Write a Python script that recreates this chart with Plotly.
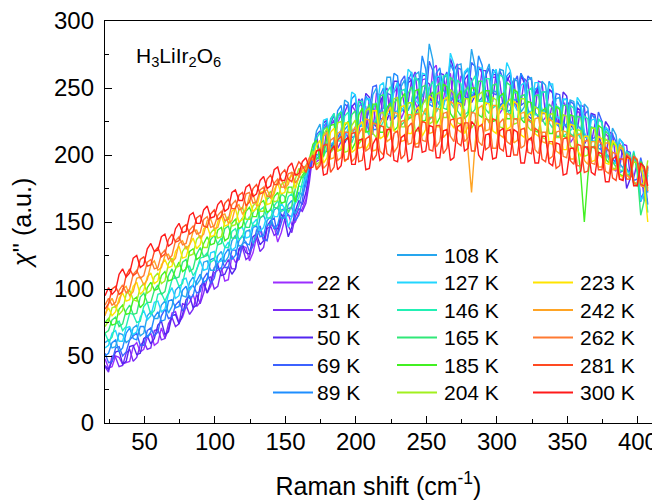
import plotly.graph_objects as go

# Raman shift grid (cm^-1), 2.5 cm^-1 steps from 22 to 407
raman_shift = [22 + 2.5 * i for i in range(155)]

temperatures = [22, 31, 50, 69, 89, 108, 127, 146, 165, 185, 204, 223, 242, 262, 281, 300]

colors = ["#9B2EFF", "#7A2AF5", "#5326F0", "#3C62FF", "#1E8EFF", "#26A6EE",
          "#22D6FF", "#22F0B4", "#30E878", "#42F022", "#A2F01E",
          "#FFE400", "#FFA424", "#FF7A32", "#FF4A22", "#FF1A1A"]

chi_22K = [48,41,42,50,49,44,45,46,57,60,53,55,64,67,58,60,71,63,70,82,83,75,79,87,90,96,87,90,105,97,102,112,114,116,106,107,125,120,122,132,131,121,127,139,144,136,137,148,147,135,142,152,156,148,150,157,160,167,185,198,195,197,219,223,202,205,224,230,217,213,237,233,216,237,236,214,216,246,245,229,230,243,247,250,227,233,258,256,239,232,256,257,237,264,267,240,241,257,261,237,234,259,256,243,245,244,266,261,237,242,258,258,231,235,258,254,239,236,258,256,232,232,246,248,225,228,249,246,227,222,240,235,209,213,233,230,214,212,231,227,205,204,216,213,190,188,209,204,185,184,200,192,168,172,185]
chi_31K = [42,38,50,49,42,43,52,55,46,49,58,61,55,56,69,70,62,63,74,79,72,74,89,88,81,85,96,89,97,108,109,100,102,114,117,122,115,115,129,131,122,124,134,138,128,131,145,147,140,142,153,155,147,142,154,160,158,164,180,202,216,197,201,221,222,226,205,210,232,238,218,219,242,236,218,242,237,222,226,247,250,226,227,255,250,237,239,256,262,237,236,255,253,238,235,261,260,241,242,263,268,239,237,258,257,243,244,263,263,240,240,262,255,235,232,251,256,234,238,257,254,235,232,255,254,230,225,240,238,219,218,240,237,221,218,237,236,212,209,223,222,200,195,217,216,195,190,208,207,185,183,194,192,166,167]
chi_50K = [43,40,46,53,54,44,46,57,58,51,52,63,65,59,63,73,76,66,68,80,81,74,81,92,95,86,88,102,105,97,105,116,118,110,111,117,111,115,130,133,127,126,139,141,133,136,147,151,145,145,156,152,139,146,158,166,163,172,188,202,200,201,224,226,206,210,228,232,209,214,236,239,222,222,246,243,224,221,239,245,226,233,255,255,235,232,254,256,229,238,259,260,243,239,258,258,237,246,272,264,242,236,256,260,239,244,264,264,246,239,260,260,237,239,255,260,238,240,261,253,229,227,246,251,231,231,249,247,224,223,247,244,223,219,235,233,208,213,231,230,213,207,225,221,197,194,206,200,175,182,200,196,178,175,191]
chi_69K = [52,45,46,56,57,50,53,62,65,67,58,58,69,71,65,68,80,85,78,79,88,91,84,86,101,103,97,98,108,112,104,108,119,123,116,116,129,129,122,134,135,128,132,144,147,137,136,151,153,140,149,158,160,161,151,155,166,183,190,199,215,218,201,203,223,230,213,218,238,236,213,214,239,242,226,233,251,252,227,227,246,245,227,230,255,259,239,239,256,257,238,241,270,263,242,237,256,262,239,244,265,264,244,242,269,266,240,243,259,265,246,245,263,257,233,233,254,259,237,239,259,256,232,228,247,247,225,228,246,245,225,220,240,238,215,215,230,233,212,213,232,225,202,198,215,210,187,188,203,202,181,182,198,187,163]
chi_89K = [50,52,60,62,53,56,67,71,63,62,72,72,64,68,79,83,76,77,91,92,86,87,99,102,93,95,106,111,105,107,122,123,115,115,126,130,122,125,136,140,134,133,146,147,139,140,151,154,145,148,159,160,155,154,165,172,170,178,192,201,197,200,221,225,205,209,233,237,219,222,242,245,221,222,244,240,219,219,244,250,235,239,261,259,233,234,255,262,241,246,274,264,238,236,261,265,248,246,268,262,239,238,260,264,242,249,274,267,246,241,264,261,236,239,259,262,241,241,261,256,234,229,249,251,232,234,255,249,223,221,241,242,226,221,240,235,215,213,230,228,205,204,220,217,197,194,212,209,190,186,201,190,165,173,190]
chi_108K = [60,62,56,57,67,66,60,62,71,73,65,67,80,83,78,78,88,91,82,87,99,102,95,94,105,109,103,107,120,121,114,114,125,128,120,124,136,140,132,133,143,144,134,140,153,155,148,148,159,161,153,153,163,166,156,162,173,188,194,202,218,223,206,208,227,231,210,216,241,239,219,215,236,239,218,224,245,250,232,235,258,258,232,233,251,256,233,239,260,262,243,251,283,271,242,237,257,260,241,245,267,268,244,252,279,266,240,240,261,268,248,247,264,263,240,237,257,255,232,236,256,258,236,235,255,252,230,226,242,243,222,223,241,240,223,219,238,235,211,210,226,225,205,203,220,215,194,190,203,199,179,179,196,189,172]
chi_127K = [56,58,67,69,61,61,71,72,66,68,79,84,77,80,90,91,83,85,96,101,93,95,107,108,99,103,115,121,114,115,127,128,120,121,131,135,129,131,145,146,138,139,149,152,143,146,156,160,154,154,164,160,146,154,168,177,176,183,195,204,199,202,226,227,208,210,227,233,212,220,247,245,224,221,241,242,221,228,252,254,231,230,248,254,232,237,264,261,241,238,261,260,239,240,258,259,236,246,276,268,242,240,262,265,246,248,265,265,239,240,260,264,243,245,269,263,238,233,252,254,230,233,254,254,232,233,253,253,229,227,242,241,218,221,243,239,217,211,226,227,208,206,221,218,194,194,212,208,188,186,203,191,166,171,187]
chi_146K = [67,61,64,74,76,69,72,82,81,75,76,87,90,81,84,96,97,91,97,107,109,102,104,116,117,110,114,123,124,127,120,122,134,138,131,131,143,145,137,139,149,154,147,148,159,161,153,153,162,166,158,159,169,171,164,168,180,192,197,200,212,217,199,205,226,231,211,210,229,232,209,216,240,240,219,215,235,239,220,225,247,251,229,229,248,249,226,231,258,255,233,230,250,255,232,237,259,260,239,235,256,253,230,232,254,259,240,240,257,257,235,237,260,258,235,229,247,246,227,228,248,250,230,230,247,247,224,220,237,235,214,216,237,235,217,212,229,227,205,207,227,224,203,196,210,209,189,188,202,200,179,177,192,182,157]
chi_165K = [67,69,77,79,72,74,84,88,81,82,94,97,90,90,99,103,96,98,110,115,108,109,120,122,113,115,126,131,124,125,137,140,133,134,145,147,138,138,149,153,146,146,157,161,153,155,167,169,161,160,171,169,157,162,175,184,183,186,196,204,197,198,219,221,203,208,230,232,211,212,230,233,211,211,232,238,222,225,244,245,221,220,239,242,222,225,246,251,232,231,251,252,226,229,251,254,235,234,258,255,233,229,247,251,231,234,255,255,234,231,252,253,235,234,254,252,227,226,244,245,226,224,244,245,227,222,238,235,214,214,237,237,216,214,229,228,207,204,221,220,200,199,218,215,195,191,205,204,185,186,202,187,155,166,189]
chi_185K = [75,78,73,74,85,88,81,82,92,94,86,89,101,105,99,100,110,113,106,107,115,120,113,115,128,130,122,124,134,139,133,134,144,146,136,138,149,152,145,147,158,161,154,154,164,166,157,159,169,172,164,165,176,176,165,178,185,188,197,208,211,196,199,214,222,223,203,204,222,225,204,209,230,235,217,218,238,238,217,217,235,239,218,221,242,246,227,228,248,249,225,226,244,247,223,228,253,251,231,227,244,248,227,230,250,250,230,228,248,248,225,226,244,246,227,227,249,247,227,224,240,239,218,217,233,235,216,216,236,234,214,213,230,229,210,185,150,184,206,205,222,220,197,194,209,207,186,184,199,197,179,178,195,191,175]
chi_204K = [72,76,86,87,81,84,96,99,92,91,101,104,97,99,109,112,104,106,119,123,116,117,128,132,125,126,137,140,131,131,142,145,138,139,150,154,147,148,159,161,152,152,162,165,158,158,169,173,165,166,178,180,172,172,182,190,187,188,196,203,193,195,215,220,202,205,224,225,202,203,222,226,208,212,233,235,216,213,231,232,213,220,242,243,221,221,239,239,218,218,237,242,223,225,245,247,228,228,249,246,224,223,242,242,220,224,245,247,229,224,243,241,221,220,239,242,223,224,242,242,221,218,236,234,213,212,230,231,213,213,230,229,207,204,219,218,199,200,220,220,201,198,212,210,190,190,208,205,186,182,195,194,177,180,196]
chi_223K = [81,86,80,83,93,97,91,92,102,105,96,99,109,112,104,106,118,122,116,117,128,132,123,124,133,138,130,133,145,147,139,140,150,155,147,148,158,160,150,152,162,166,158,160,172,173,163,164,174,179,171,172,182,185,175,184,188,189,197,197,207,211,194,198,217,220,203,205,224,224,202,204,222,225,204,209,233,233,212,214,231,236,218,217,236,237,216,216,233,236,214,219,244,242,221,221,241,243,224,220,239,238,216,221,243,244,222,221,239,238,218,216,234,238,219,221,240,238,215,213,230,232,216,214,232,231,209,208,224,223,204,204,223,222,204,199,214,214,195,196,214,212,194,193,211,207,185,183,198,197,180,178,194,178,150]
chi_242K = [80,89,93,87,90,100,102,95,98,108,109,103,107,118,121,114,116,125,126,120,123,134,136,130,133,143,144,138,141,151,152,145,146,155,156,149,151,161,163,156,159,170,171,162,163,173,174,168,171,181,182,175,178,187,186,184,190,192,196,200,190,194,214,217,197,198,216,218,195,198,217,221,205,206,227,226,203,204,223,229,210,212,232,231,210,211,230,230,208,209,229,235,216,217,235,234,213,216,240,238,219,217,234,205,172,208,235,237,218,219,237,237,215,213,231,230,209,211,231,232,212,211,227,228,210,209,227,225,203,201,218,217,197,197,215,216,196,193,210,210,191,191,209,209,189,189,206,204,185,183,199,197,177,176,191]
chi_262K = [88,93,88,90,99,103,97,100,111,114,108,110,120,122,115,116,126,129,122,125,136,139,133,134,144,147,141,142,152,154,146,147,155,158,151,152,163,166,159,160,171,172,164,165,174,176,169,169,179,182,176,176,186,187,179,183,191,191,198,196,203,205,190,193,211,213,196,198,217,217,195,198,216,220,203,205,224,223,203,200,218,221,202,206,225,226,208,209,230,231,211,210,228,228,206,210,231,232,214,210,227,228,210,213,232,231,210,207,227,226,205,205,224,227,210,208,227,227,205,207,227,225,204,201,217,217,197,199,217,218,199,198,215,213,192,192,210,211,194,193,211,208,188,186,202,201,182,182,201,198,180,177,193,189,173]
chi_281K = [85,89,100,102,96,98,110,115,110,112,122,124,117,118,128,131,124,126,137,141,135,136,146,148,141,143,153,155,147,146,156,159,152,154,164,167,160,160,170,172,162,165,175,178,171,172,182,185,178,178,186,189,182,180,189,195,192,187,194,200,189,192,207,208,187,191,211,214,196,197,216,217,195,196,212,214,196,200,222,221,201,199,216,218,197,200,221,224,206,206,225,224,204,203,222,222,201,205,226,227,209,207,224,224,203,203,221,223,204,206,227,226,205,203,218,219,200,200,219,220,202,201,220,218,197,195,210,210,190,192,212,213,196,193,208,207,187,188,206,206,189,189,206,203,183,181,197,197,182,182,199,196,178,177,192]
chi_300K = [95,101,96,99,111,115,109,112,123,125,116,118,130,134,128,129,139,141,132,134,145,149,142,143,155,157,149,149,159,162,153,154,163,166,158,160,172,174,166,166,176,178,169,171,181,184,175,177,189,191,181,181,191,194,185,186,195,198,190,191,203,204,185,186,203,207,189,192,211,213,193,193,211,212,189,190,208,213,196,198,219,219,196,195,213,215,195,197,217,221,202,203,222,221,198,198,218,219,196,198,221,223,203,205,225,222,200,196,215,216,197,198,218,220,199,199,219,217,194,194,211,213,194,194,214,214,194,192,209,208,185,186,205,205,186,188,206,206,187,185,202,201,180,180,197,199,182,181,199,197,177,177,194,191,177]

spectra = [chi_22K, chi_31K, chi_50K, chi_69K, chi_89K, chi_108K, chi_127K, chi_146K,
           chi_165K, chi_185K, chi_204K, chi_223K, chi_242K, chi_262K, chi_281K, chi_300K]
legend_labels = [f"{t} K" for t in temperatures]

for s in spectra:
    assert len(s) == len(raman_shift), len(s)

fig = go.Figure()
for y, c, name in zip(spectra, colors, legend_labels):
    fig.add_trace(go.Scatter(x=raman_shift, y=y, mode="lines", name=name,
                             line=dict(color=c, width=1.4), showlegend=False))

FONT = "Liberation Sans, Arial, Helvetica, sans-serif"
# plot-area edges in page pixels (page body has an 8 px margin)
OFF = 8
L, R, T, B = 105, 652, 21, 423
W, H = R - L, B - T

def px(x):
    return (x - L) / W

def py(y):
    return (B - y) / H

# manual legend layout: (column, row)
slots = [(0, 1), (0, 2), (0, 3), (0, 4), (0, 5),
         (1, 0), (1, 1), (1, 2), (1, 3), (1, 4), (1, 5),
         (2, 1), (2, 2), (2, 3), (2, 4), (2, 5)]
col_line = [(273, 313), (397, 437), (533, 573)]
col_text = [315, 442, 578]
row_y = [255, 282.5, 310, 337.5, 365, 392.5]

shapes = []
annotations = []
for (ci, ri), c, name in zip(slots, colors, legend_labels):
    x0, x1 = col_line[ci]
    yy = row_y[ri]
    shapes.append(dict(type="line", xref="paper", yref="paper",
                       x0=px(x0), x1=px(x1), y0=py(yy), y1=py(yy),
                       line=dict(color=c, width=2)))
    annotations.append(dict(xref="paper", yref="paper", x=px(col_text[ci]), y=py(yy),
                            text=name, showarrow=False, xanchor="left", yanchor="middle",
                            font=dict(size=21, family=FONT, color="black")))

annotations.append(dict(xref="paper", yref="paper", x=px(134), y=py(57),
                        text="H<sub>3</sub>LiIr<sub>2</sub>O<sub>6</sub>", showarrow=False,
                        xanchor="left", yanchor="middle",
                        font=dict(size=21, family=FONT, color="black")))

axis_common = dict(showline=True, linecolor="black", linewidth=1.3, mirror=True,
                   ticks="inside", ticklen=7, tickwidth=1.3, tickcolor="black",
                   showgrid=False, zeroline=False, ticklabeloverflow="allow",
                   automargin=False,
                   tickfont=dict(size=24, family=FONT, color="black"))

fig.update_layout(
    width=660 - OFF, height=502 - OFF,
    margin=dict(l=L - OFF, r=660 - R, t=T - OFF, b=502 - B),
    plot_bgcolor="white", paper_bgcolor="white",
    font=dict(family=FONT, color="black"),
    showlegend=False,
    shapes=shapes, annotations=annotations,
    xaxis=dict(range=[22, 410], tickmode="array", tickvals=[50, 100, 150, 200, 250, 300, 350, 400],
               minor=dict(ticks="inside", ticklen=4, tickwidth=1.2, tickcolor="black",
                          tickmode="array", tickvals=[25, 75, 125, 175, 225, 275, 325, 375]),
               title=dict(text="Raman shift (cm<sup>-1</sup>)", font=dict(size=25, family=FONT), standoff=23),
               ticklabelstandoff=-3,
               **axis_common),
    yaxis=dict(range=[0, 300], tickmode="array", tickvals=[0, 50, 100, 150, 200, 250, 300],
               minor=dict(ticks="inside", ticklen=4, tickwidth=1.2, tickcolor="black",
                          tickmode="array", tickvals=[25, 75, 125, 175, 225, 275]),
               title=dict(text="<i>χ</i>'' (a.u.)", font=dict(size=25, family=FONT), standoff=21),
               ticklabelstandoff=5,
               **axis_common),
)

fig.write_html("out.html")
